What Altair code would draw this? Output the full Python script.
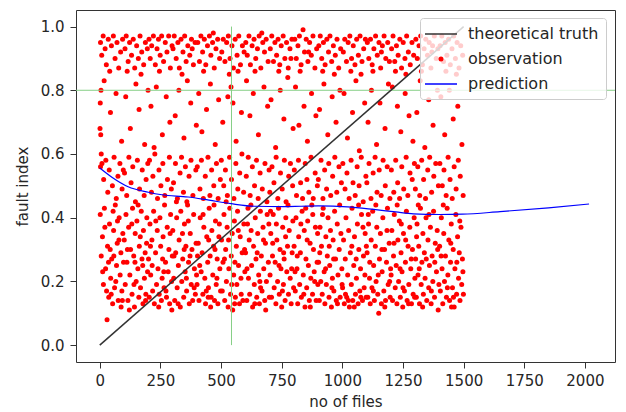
import altair as alt
import pandas as pd

# ---- axes -------------------------------------------------------------
x_ticks = [0, 250, 500, 750, 1000, 1250, 1500, 1750, 2000]
y_ticks = [0.0, 0.2, 0.4, 0.6, 0.8, 1.0]
x_domain = [-98, 2124]
y_domain = [-0.053, 1.052]

# ---- series -----------------------------------------------------------
series_names = ["theoretical truth", "observation", "prediction"]
series_colors = ["#333333", "#ff0000", "#0000ff"]

truth_x = [0, 1500]
truth_y = [0.0, 1.0]

pred_x = [0, 50, 117, 200, 256, 364, 450, 541, 638, 755, 830, 900, 1022,
          1129, 1220, 1293, 1400, 1495, 1650, 1850, 2017]
pred_y = [0.556, 0.527, 0.497, 0.480, 0.472, 0.465, 0.455, 0.444, 0.436,
          0.435, 0.436, 0.437, 0.434, 0.426, 0.418, 0.412, 0.410, 0.411,
          0.419, 0.431, 0.443]

guide_x = 543   # vertical reference: file count
guide_y = 0.8   # horizontal reference: fault index level

# ---- observations (files, fault index), grouped by file-count range ---
obs_0000 = [(3,.95),(8,.91),(14,.97),(22,.93),(27,.88),(35,.96),(41,.86),(48,.94),(56,.97),(63,.90),(71,.95),(78,.87),(86,.92),(94,.96),
            (2,.76),(5,.80),(18,.83),(44,.73),(67,.79),(90,.64),(1,.68),(4,.66),(6,.60),(3,.56),
            (9,.57),(16,.52),(25,.58),(33,.48),(39,.55),(52,.50),(59,.59),(68,.46),(75,.53),(83,.57),(92,.49),(97,.55),
            (2,.41),(6,.28),(11,.34),(15,.19),(19,.43),(24,.24),(30,.08),(32,.31),(37,.15),(40,.38),(45,.21),(49,.27),(53,.13),
            (57,.36),(61,.18),(64,.44),(69,.25),(72,.32),(76,.14),(80,.40),(84,.22),(87,.29),(91,.17),(95,.35),(98,.26),(12,.23),
            (28,.17),(43,.30),(55,.42),(66,.20),(79,.33),(88,.12),(21,.37),(47,.16),(73,.39),(36,.26),(58,.28),(93,.14)]
obs_0100 = [(104,.93),(109,.97),(117,.89),(123,.95),(131,.91),(138,.96),(144,.87),(152,.94),(159,.90),(166,.97),(173,.92),(181,.88),(188,.95),(196,.93),(113,.86),(170,.85),
            (107,.78),(126,.68),(149,.82),(162,.74),(185,.63),(199,.80),
            (102,.54),(111,.47),(120,.59),(129,.51),(136,.56),(147,.45),(155,.58),(164,.49),(175,.55),(183,.47),(191,.52),(198,.57),
            (101,.33),(105,.19),(108,.41),(112,.26),(116,.14),(119,.37),(124,.22),(127,.30),(133,.16),(135,.43),(140,.28),(143,.12),
            (146,.35),(150,.20),(153,.39),(157,.24),(161,.15),(163,.31),(168,.18),(171,.42),(174,.27),(178,.13),(180,.36),(184,.21),
            (187,.29),(190,.16),(194,.40),(197,.23),(114,.30),(132,.38),(141,.19),(158,.44),(167,.34),(177,.25),(189,.14),(193,.32),(122,.11),(145,.26)]
obs_0200 = [(203,.96),(208,.90),(214,.94),(221,.97),(229,.88),(236,.93),(242,.96),(249,.91),(255,.97),(263,.89),(270,.95),(277,.92),(284,.97),(291,.87),(298,.94),(246,.86),
            (211,.75),(233,.81),(258,.66),(274,.78),(289,.70),(224,.62),
            (205,.58),(213,.48),(219,.53),(227,.60),(238,.46),(244,.55),(252,.50),(260,.57),(268,.47),(279,.52),(287,.59),(295,.49),
            (201,.27),(204,.15),(207,.38),(210,.22),(215,.33),(218,.17),(222,.42),(225,.13),(230,.29),(234,.19),(237,.36),(240,.24),
            (245,.16),(248,.40),(251,.31),(254,.14),(257,.21),(261,.34),(265,.18),(267,.44),(271,.26),(275,.15),(278,.37),(282,.23),
            (285,.30),(288,.13),(292,.41),(296,.20),(299,.28),(216,.25),(231,.39),(243,.12),(259,.27),(273,.17),(290,.35),(209,.31),(264,.23),(297,.11)]
obs_0300 = [(302,.93),(307,.97),(315,.90),(322,.95),(328,.87),(335,.96),(343,.92),(350,.97),(356,.89),(363,.94),(371,.91),(378,.96),(386,.88),(393,.95),(339,.85),(381,.93),
            (311,.72),(326,.80),(347,.65),(361,.83),(375,.76),(398,.69),
            (304,.51),(312,.57),(320,.46),(331,.54),(337,.59),(345,.48),(353,.56),(359,.45),(368,.53),(376,.58),(384,.47),(396,.55),
            (301,.36),(305,.21),(309,.14),(313,.29),(317,.40),(319,.18),(324,.25),(327,.33),(332,.12),(334,.42),(338,.20),(342,.27),
            (346,.15),(349,.38),(352,.23),(355,.31),(358,.17),(362,.44),(366,.26),(369,.13),(373,.35),(377,.19),(380,.30),(383,.14),
            (387,.41),(390,.24),(394,.16),(397,.32),(306,.28),(323,.13),(341,.35),(357,.21),(365,.39),(372,.28),(389,.18),(399,.22),(316,.45),(348,.30)]
obs_0400 = [(404,.95),(411,.89),(417,.97),(424,.92),(431,.96),(437,.88),(444,.94),(452,.97),(458,.91),(465,.95),(472,.87),(479,.93),(486,.96),(494,.90),(428,.86),(468,.98),
            (408,.79),(421,.67),(440,.74),(456,.82),(476,.63),(490,.77),
            (402,.56),(413,.49),(419,.58),(427,.46),(435,.53),(446,.59),(454,.47),(461,.55),(470,.50),(481,.57),(488,.46),(497,.52),
            (401,.19),(406,.32),(409,.14),(414,.40),(418,.23),(422,.29),(425,.16),(429,.37),(433,.21),(436,.13),(441,.34),(445,.26),
            (448,.18),(451,.43),(455,.28),(459,.15),(462,.36),(466,.22),(469,.31),(473,.14),(477,.39),(480,.19),(484,.27),(487,.13),
            (491,.34),(495,.24),(498,.17),(412,.25),(426,.41),(439,.17),(449,.33),(457,.12),(471,.44),(483,.21),(493,.38),(403,.28),(447,.15),(475,.30)]
obs_0500 = [(503,.92),(509,.96),(516,.89),(523,.95),(530,.97),(537,.90),(545,.94),(551,.87),(558,.96),(566,.91),(573,.97),(580,.88),(588,.94),(595,.92),(534,.85),(570,.86),
            (507,.70),(528,.78),(541,.81),(549,.76),(562,.64),(584,.73),
            (501,.58),(511,.50),(518,.55),(526,.47),(535,.59),(543,.52),(553,.46),(561,.57),(569,.49),(577,.54),(586,.60),(593,.48),
            (502,.33),(505,.17),(508,.26),(512,.41),(515,.14),(519,.30),(522,.20),(525,.37),(529,.12),(532,.24),(536,.43),(539,.16),
            (542,.28),(546,.35),(548,.11),(552,.22),(555,.39),(559,.15),(563,.31),(565,.19),(568,.42),(572,.25),(576,.13),(579,.34),
            (582,.21),(587,.29),(590,.14),(594,.38),(598,.23),(514,.27),(531,.33),(544,.19),(557,.26),(571,.36),(583,.16),(597,.30),(521,.45),(556,.13)]
obs_0600 = [(602,.95),(608,.91),(615,.97),(621,.88),(628,.94),(636,.96),(643,.90),(650,.93),(657,.97),(664,.87),(672,.95),(679,.92),(686,.96),(694,.89),(640,.86),(668,.98),
            (605,.83),(619,.72),(633,.79),(654,.66),(677,.81),(692,.75),
            (604,.53),(612,.59),(620,.47),(629,.56),(638,.50),(646,.58),(653,.46),(661,.54),(670,.49),(681,.57),(689,.45),(698,.55),
            (601,.29),(606,.14),(609,.38),(613,.21),(616,.33),(618,.16),(623,.44),(626,.25),(630,.12),(634,.31),(637,.19),(641,.40),
            (644,.27),(647,.15),(651,.35),(655,.22),(658,.13),(662,.42),(666,.28),(669,.17),(673,.37),(676,.24),(680,.14),(683,.32),
            (687,.20),(690,.41),(695,.26),(699,.15),(607,.24),(624,.36),(639,.13),(649,.29),(660,.20),(675,.33),(684,.11),(697,.38),(611,.43),(663,.18)]
obs_0700 = [(703,.93),(709,.97),(716,.89),(722,.95),(729,.91),(735,.96),(742,.88),(748,.94),(756,.97),(763,.90),(770,.95),(777,.87),(784,.93),(792,.96),(738,.86),(788,.90),
            (706,.77),(725,.62),(744,.80),(759,.71),(775,.84),(797,.68),
            (701,.48),(710,.56),(718,.51),(727,.59),(734,.46),(745,.54),(752,.49),(761,.58),(768,.45),(779,.53),(786,.57),(795,.50),
            (702,.22),(705,.35),(708,.15),(712,.28),(715,.41),(719,.18),(723,.26),(726,.13),(730,.33),(733,.20),(737,.43),(740,.16),
            (743,.30),(747,.24),(750,.12),(754,.37),(757,.19),(760,.27),(764,.14),(767,.40),(771,.23),(774,.31),(778,.16),(781,.36),
            (785,.21),(789,.13),(793,.29),(796,.39),(799,.18),(713,.32),(728,.38),(739,.25),(753,.17),(766,.34),(776,.44),(791,.24),(704,.42),(758,.29)]
obs_0800 = [(804,.96),(810,.90),(817,.94),(823,.97),(830,.88),(838,.99),(844,.92),(851,.96),(858,.89),(865,.95),(872,.91),(879,.97),(887,.87),(894,.93),(826,.86),(861,.92),
            (807,.81),(821,.69),(842,.75),(856,.64),(873,.79),(891,.72),
            (802,.55),(811,.47),(819,.58),(828,.51),(836,.46),(847,.57),(854,.52),(862,.48),(871,.59),(880,.46),(888,.54),(897,.50),
            (801,.31),(806,.17),(809,.40),(813,.24),(816,.13),(820,.34),(824,.19),(827,.29),(831,.15),(834,.42),(839,.22),(843,.36),
            (846,.12),(850,.27),(853,.18),(857,.39),(860,.25),(864,.14),(867,.32),(870,.21),(874,.44),(877,.16),(881,.30),(884,.23),
            (889,.37),(892,.14),(896,.26),(899,.19),(814,.28),(829,.38),(841,.16),(855,.33),(868,.12),(878,.41),(886,.20),(898,.35),(805,.23),(849,.43)]
obs_0900 = [(903,.94),(909,.97),(915,.90),(922,.95),(929,.88),(936,.96),(943,.92),(949,.97),(956,.89),(963,.94),(971,.91),(978,.96),(985,.87),(993,.93),(919,.86),(967,.85),
            (906,.74),(924,.82),(940,.66),(958,.78),(974,.70),(990,.80),
            (901,.52),(912,.58),(920,.46),(927,.55),(935,.49),(944,.57),(952,.47),(960,.53),(969,.59),(977,.48),(986,.56),(996,.51),
            (902,.26),(905,.14),(908,.37),(911,.20),(914,.31),(917,.16),(921,.43),(925,.23),(928,.13),(932,.34),(934,.19),(938,.28),
            (941,.40),(945,.15),(948,.25),(951,.36),(955,.12),(959,.21),(962,.33),(965,.17),(968,.42),(972,.27),(975,.14),(979,.38),
            (982,.22),(987,.30),(991,.15),(994,.35),(998,.24),(907,.29),(918,.41),(931,.24),(946,.31),(957,.18),(964,.27),(980,.13),(989,.44),(999,.19)]
obs_1000 = [(1004,.92),(1010,.96),(1017,.89),(1024,.95),(1031,.97),(1038,.90),(1045,.94),(1052,.88),(1059,.96),(1066,.91),(1073,.97),(1081,.89),(1088,.93),(1095,.96),(1035,.86),(1077,.85),
            (1007,.79),(1021,.65),(1042,.73),(1056,.83),(1070,.61),(1092,.76),
            (1002,.57),(1011,.49),(1019,.54),(1028,.46),(1036,.58),(1044,.51),(1053,.47),(1061,.56),(1069,.50),(1078,.59),(1086,.45),(1097,.53),
            (1001,.18),(1005,.33),(1008,.13),(1012,.27),(1015,.40),(1018,.15),(1022,.22),(1026,.36),(1029,.12),(1033,.29),(1037,.19),(1040,.43),
            (1043,.14),(1047,.25),(1050,.34),(1054,.16),(1058,.21),(1062,.38),(1065,.13),(1068,.30),(1072,.17),(1075,.24),(1079,.41),(1083,.14),
            (1087,.28),(1090,.18),(1094,.35),(1098,.15),(1013,.16),(1025,.14),(1039,.31),(1049,.12),(1057,.27),(1067,.44),(1076,.15),(1085,.37),(1093,.22),(1099,.31)]
obs_1100 = [(1103,.95),(1109,.90),(1116,.96),(1123,.88),(1130,.93),(1137,.97),(1144,.91),(1151,.95),(1158,.87),(1165,.94),(1172,.97),(1179,.90),(1187,.95),(1194,.89),(1126,.86),(1161,.92),
            (1106,.70),(1120,.80),(1141,.63),(1155,.76),(1176,.68),(1190,.82),
            (1101,.51),(1110,.57),(1118,.46),(1127,.54),(1135,.59),(1143,.48),(1152,.55),(1160,.47),(1168,.58),(1177,.50),(1185,.56),(1196,.46),
            (1102,.29),(1105,.15),(1108,.38),(1112,.21),(1115,.13),(1119,.33),(1122,.18),(1125,.42),(1129,.25),(1132,.14),(1136,.31),(1139,.20),
            (1142,.37),(1146,.16),(1150,.10),(1153,.27),(1157,.35),(1161,.13),(1164,.23),(1167,.40),(1171,.17),(1174,.30),(1178,.14),(1182,.26),
            (1186,.43),(1189,.19),(1193,.32),(1197,.15),(1199,.24),(1113,.26),(1128,.17),(1138,.44),(1148,.22),(1163,.30),(1175,.12),(1184,.36),(1195,.20),(1107,.41)]
obs_1200 = [(1203,.93),(1209,.97),(1216,.89),(1223,.94),(1230,.91),(1237,.96),(1244,.87),(1251,.95),(1258,.90),(1265,.97),(1272,.92),(1280,.88),(1287,.95),(1294,.91),(1219,.86),(1262,.85),
            (1206,.81),(1227,.75),(1241,.67),(1259,.79),(1275,.72),(1291,.64),
            (1202,.55),(1212,.48),(1220,.58),(1228,.51),(1236,.46),(1245,.56),(1253,.49),(1263,.59),(1270,.47),(1279,.54),(1288,.52),(1297,.57),
            (1201,.22),(1204,.36),(1207,.14),(1211,.28),(1214,.41),(1218,.18),(1222,.25),(1225,.13),(1229,.33),(1232,.20),(1235,.39),(1239,.15),
            (1242,.29),(1246,.23),(1249,.12),(1252,.35),(1256,.17),(1260,.26),(1264,.42),(1267,.14),(1271,.31),(1274,.19),(1278,.37),(1282,.24),
            (1285,.13),(1289,.30),(1292,.16),(1296,.40),(1299,.21),(1213,.32),(1226,.44),(1238,.24),(1250,.18),(1261,.33),(1273,.13),(1284,.27),(1298,.15),(1243,.38)]
obs_1300 = [(1303,.96),(1309,.90),(1316,.94),(1323,.97),(1330,.88),(1337,.93),(1344,.96),(1351,.91),(1358,.95),(1365,.87),(1372,.94),(1379,.97),(1387,.90),(1394,.93),(1326,.86),(1369,.92),
            (1307,.73),(1321,.83),(1340,.62),(1356,.77),(1374,.69),(1392,.80),
            (1301,.49),(1311,.56),(1319,.47),(1327,.58),(1335,.52),(1343,.46),(1352,.55),(1360,.59),(1368,.48),(1377,.53),(1385,.57),(1396,.50),
            (1302,.27),(1305,.15),(1308,.38),(1312,.22),(1315,.31),(1318,.13),(1322,.43),(1325,.19),(1328,.26),(1332,.35),(1334,.16),(1338,.29),
            (1341,.21),(1345,.40),(1348,.14),(1353,.33),(1356,.18),(1359,.25),(1363,.37),(1366,.13),(1370,.28),(1373,.20),(1376,.42),(1380,.15),
            (1383,.32),(1388,.23),(1391,.36),(1395,.11),(1398,.19),(1306,.34),(1317,.24),(1331,.12),(1346,.27),(1357,.41),(1367,.17),(1381,.26),(1393,.30),(1313,.44)]
obs_1400 = [(1403,.94),(1410,.97),(1417,.89),(1424,.95),(1431,.91),(1438,.96),(1445,.88),(1452,.93),(1459,.97),(1466,.90),(1473,.95),(1481,.87),(1488,.94),(1496,.91),(1427,.86),(1470,.85),
            (1406,.78),(1422,.66),(1441,.80),(1457,.71),(1476,.75),(1493,.63),
            (1402,.57),(1412,.50),(1419,.55),(1428,.47),(1436,.59),(1444,.52),(1453,.46),(1461,.56),(1469,.49),(1478,.58),(1486,.53),(1498,.47),
            (1401,.31),(1404,.17),(1408,.40),(1411,.24),(1414,.13),(1418,.35),(1421,.20),(1425,.28),(1429,.15),(1432,.43),(1435,.22),(1439,.33),
            (1442,.14),(1446,.26),(1449,.38),(1454,.18),(1457,.30),(1461,.12),(1464,.24),(1468,.41),(1471,.16),(1475,.34),(1479,.21),(1482,.29),
            (1485,.14),(1489,.37),(1492,.19),(1495,.27),(1499,.16),(1407,.28),(1416,.44),(1433,.18),(1447,.32),(1458,.15),(1472,.26),(1484,.39),(1497,.23),(1450,.12)]

obs_groups = [obs_0000, obs_0100, obs_0200, obs_0300, obs_0400, obs_0500, obs_0600,
              obs_0700, obs_0800, obs_0900, obs_1000, obs_1100, obs_1200, obs_1300, obs_1400]

# ---- tables -------------------------------------------------------------
obs_df = pd.DataFrame([p for g in obs_groups for p in g], columns=["files", "fault"])
obs_df["series"] = series_names[1]
truth_df = pd.DataFrame({"files": truth_x, "fault": truth_y, "series": series_names[0]})
pred_df = pd.DataFrame({"files": pred_x, "fault": pred_y, "series": series_names[2]})
vguide_df = pd.DataFrame({"files": [guide_x], "lo": [0.0], "hi": [1.0]})
hguide_df = pd.DataFrame({"fault": [guide_y]})

FONT = "DejaVu Sans"
TEXT = "#262626"
GUIDE = "#86cf86"

# legend glyphs: a 32px dash for the lines, a small dot for the scatter
dash_path = "M-1.375,0H2.625"
dot_path = "M0.845,0A0.22,0.22 0 1,1 0.405,0A0.22,0.22 0 1,1 0.845,0Z"

legend = alt.Legend(
    title=None,
    orient="none",
    legendX=344,
    legendY=8,
    fillColor="rgba(255,255,255,0.8)",
    strokeColor="#cccccc",
    cornerRadius=3,
    padding=7,
    labelFont=FONT,
    labelFontSize=16,
    labelColor=TEXT,
    labelOffset=23,
    rowPadding=8,
    symbolSize=256,
    symbolStrokeWidth=1.5,
    symbolType=alt.ExprRef(expr=f"datum.value === 'observation' ? '{dot_path}' : '{dash_path}'"),
    symbolStrokeColor=alt.ExprRef(expr="scale('color', datum.value)"),
)

color = alt.Color(
    "series:N",
    scale=alt.Scale(domain=series_names, range=series_colors),
    legend=legend,
)

x_enc = alt.X(
    "files:Q",
    scale=alt.Scale(domain=x_domain, nice=False, zero=False),
    axis=alt.Axis(values=x_ticks, title="no of files", format="d"),
)
y_enc = alt.Y(
    "fault:Q",
    scale=alt.Scale(domain=y_domain, nice=False, zero=False),
    axis=alt.Axis(values=y_ticks, title="fault index", format=".1f"),
)

points = alt.Chart(obs_df).mark_circle(size=25, opacity=1).encode(
    x=x_enc, y=y_enc, color=color
)

truth = alt.Chart(truth_df).mark_line(strokeWidth=1.5).encode(
    x="files:Q", y="fault:Q", color=color
)

pred = alt.Chart(pred_df).mark_line(strokeWidth=1.2, interpolate="monotone").encode(
    x="files:Q", y="fault:Q", color=color
)

hguide = alt.Chart(hguide_df).mark_rule(color=GUIDE, strokeWidth=1).encode(y="fault:Q")
vguide = alt.Chart(vguide_df).mark_rule(color=GUIDE, strokeWidth=1).encode(
    x="files:Q", y="lo:Q", y2="hi:Q"
)

chart = (
    alt.layer(points, hguide, vguide, truth, pred)
    .properties(
        width=539,
        height=352,
        autosize="none",
        padding={"left": 76, "top": 10, "right": 11, "bottom": 50},
        background="white",
    )
    .configure_view(stroke="#333333", strokeWidth=1)
    .configure_axis(
        grid=False,
        domain=False,
        ticks=True,
        tickSize=6,
        tickColor="#333333",
        tickWidth=1,
        labelFont=FONT,
        labelFontSize=15,
        labelColor=TEXT,
        titleFont=FONT,
        titleFontSize=15,
        titleFontWeight="normal",
        titleColor=TEXT,
    )
    .configure_axisX(labelPadding=5, titlePadding=6)
    .configure_axisY(labelPadding=6, titlePadding=10)
)

chart.save("out.html", embed_options={"renderer": "svg", "actions": False})
